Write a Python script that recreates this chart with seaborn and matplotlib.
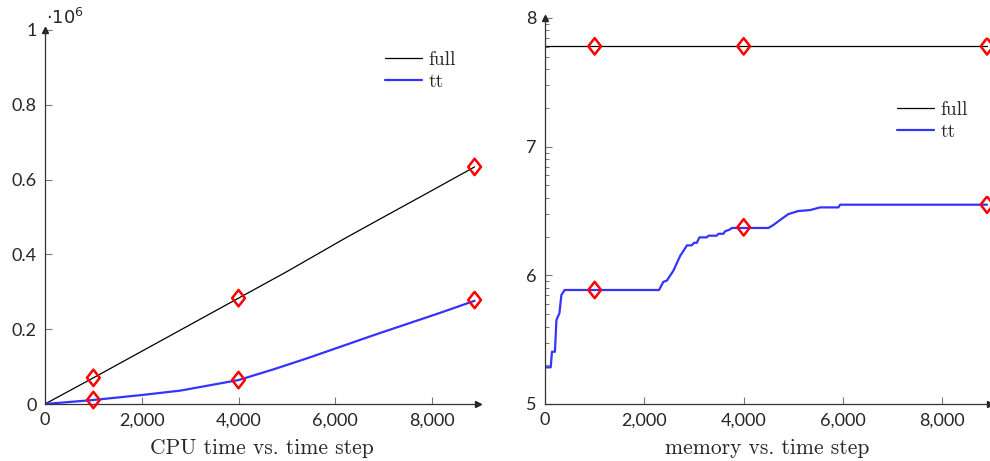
import numpy as np
import matplotlib
matplotlib.use("Agg")
import matplotlib.pyplot as plt
import matplotlib.ticker as mticker
from matplotlib.path import Path
import seaborn as sns

# CPU time (left panel)
cpu_x = [0, 1000, 2000, 3000, 4000, 5000, 6200, 7000, 8000, 8880]
cpu_full = [0, 70000, 141000, 212000, 283000, 354000, 443000, 500000, 571000, 634000]
cpu_tt_x = [0, 1000, 2000, 2793, 4000, 4724, 5414, 6104, 6793, 7483, 8173, 8880]
cpu_tt = [0, 10700, 24000, 35700, 64000, 92700, 122000, 153000, 184000, 214000, 244000, 276000]
mark_x = [1000, 4000, 8880]
cpu_full_marks = [70000, 283000, 634000]
cpu_tt_marks = [10700, 64000, 278000]

# memory (right panel), log10 of bytes
mem_full_x = [0, 8900]
mem_full_log = [7.78, 7.78]
mem_x = [0, 115, 140, 200, 230, 290, 330, 395, 2296, 2383, 2451, 2585, 2720, 2860, 2955,
         3002, 3057, 3110, 3257, 3290, 3458, 3491, 3592, 3625, 3726, 3759, 4498, 4598,
         4733, 4901, 5102, 5337, 5539, 5908, 5942, 8900]
mem_tt_log = [5.285, 5.285, 5.406, 5.406, 5.653, 5.705, 5.847, 5.886, 5.886, 5.950, 5.958,
              6.036, 6.150, 6.233, 6.233, 6.253, 6.253, 6.295, 6.295, 6.308, 6.308, 6.323,
              6.323, 6.342, 6.357, 6.368, 6.368, 6.391, 6.430, 6.476, 6.500, 6.507, 6.528,
              6.528, 6.549, 6.549]
mem_mark_x = [1000, 4000, 8900]
mem_full_marks = [7.78, 7.78, 7.78]
mem_tt_marks = [5.886, 6.373, 6.549]

sns.set_style("white")
plt.rcParams["mathtext.fontset"] = "dejavusans"

BLUE = "#3434ff"
TICKFONT = "Lato"
diamond = Path([(0, 1), (0.78, 0), (0, -1), (-0.78, 0), (0, 1)],
               [Path.MOVETO, Path.LINETO, Path.LINETO, Path.LINETO, Path.CLOSEPOLY])

fig = plt.figure(figsize=(9.9, 4.61), dpi=100)
ax1 = fig.add_axes([45 / 990, 57 / 461, 433 / 990, 374 / 461])
ax2 = fig.add_axes([545 / 990, 57 / 461, 445 / 990, 386 / 461])


def style_axis(ax):
    for s in ["top", "right"]:
        ax.spines[s].set_visible(False)
    for s in ["left", "bottom"]:
        ax.spines[s].set_color("#333333")
        ax.spines[s].set_linewidth(0.9)
    ax.tick_params(which="both", left=True, bottom=True, direction="in")
    ax.tick_params(which="major", length=5, width=0.8, color="#777777",
                   labelsize=13, pad=6)
    ax.tick_params(which="minor", length=3, width=0.7, color="#777777")
    for lab in ax.get_xticklabels() + ax.get_yticklabels():
        lab.set_fontfamily(TICKFONT)
    # arrow heads on axes
    ax.plot(1, 0, marker=">", ms=4, color="#222222", transform=ax.transAxes, clip_on=False)
    ax.plot(0, 1, marker="^", ms=4, color="#222222", transform=ax.transAxes, clip_on=False)


def add_legend(ax, anchor):
    ax.legend(loc="upper right", bbox_to_anchor=anchor, frameon=False,
              prop={"family": "cmr10", "size": 14}, handlelength=1.9, handletextpad=0.35,
              labelspacing=0.2)


# left panel: CPU time
sns.lineplot(x=cpu_x, y=cpu_full, ax=ax1, color="black", lw=0.9, label="full")
sns.lineplot(x=cpu_tt_x, y=cpu_tt, ax=ax1, color=BLUE, lw=1.6, label="tt")
for ys in (cpu_full_marks, cpu_tt_marks):
    sns.scatterplot(x=mark_x, y=ys, ax=ax1, marker=diamond, s=140, facecolor="none",
                    edgecolor="red", linewidth=1.8, zorder=5, clip_on=False)
ax1.set_xlim(0, 8950)
ax1.set_ylim(0, 1e6)
ax1.set_xticks([0, 2000, 4000, 6000, 8000])
ax1.set_yticks([0, 2e5, 4e5, 6e5, 8e5, 1e6])
ax1.xaxis.set_major_formatter(mticker.FuncFormatter(lambda v, p: f"{int(v):,}"))
ax1.yaxis.set_major_formatter(mticker.FuncFormatter(lambda v, p: f"{v / 1e6:g}"))
ax1.set_xlabel("CPU time vs. time step", family="cmr10", fontsize=15.5, labelpad=7)
ax1.text(0.003, 1.005, r"$\cdot 10^{6}$", transform=ax1.transAxes, fontsize=13,
         va="bottom", ha="left")
style_axis(ax1)
add_legend(ax1, (0.99, 0.99))

# right panel: memory (log scale, labels show exponent)
mem_full = [10 ** v for v in mem_full_log]
mem_tt = [10 ** v for v in mem_tt_log]
sns.lineplot(x=mem_full_x, y=mem_full, ax=ax2, color="black", lw=0.9, label="full")
sns.lineplot(x=mem_x, y=mem_tt, ax=ax2, color=BLUE, lw=1.6, label="tt")
for ys in (mem_full_marks, mem_tt_marks):
    sns.scatterplot(x=mem_mark_x, y=[10 ** v for v in ys], ax=ax2, marker=diamond, s=140,
                    facecolor="none", edgecolor="red", linewidth=1.8, zorder=5,
                    clip_on=False)
ax2.set_yscale("log")
ax2.set_xlim(0, 8960)
ax2.set_ylim(1e5, 1e8)
ax2.set_xticks([0, 2000, 4000, 6000, 8000])
ax2.xaxis.set_major_formatter(mticker.FuncFormatter(lambda v, p: f"{int(v):,}"))
ax2.set_yticks([1e5, 1e6, 1e7, 1e8])
ax2.set_yticks([k * 10 ** n for n in (5, 6, 7) for k in range(2, 10)], minor=True)
ax2.yaxis.set_major_formatter(mticker.FuncFormatter(lambda v, p: f"{int(round(np.log10(v)))}"))
ax2.yaxis.set_minor_formatter(mticker.NullFormatter())
ax2.set_xlabel("memory vs. time step", family="cmr10", fontsize=15.5, labelpad=7)
style_axis(ax2)
add_legend(ax2, (0.99, 0.83))

fig.savefig("out.png", dpi=100)
